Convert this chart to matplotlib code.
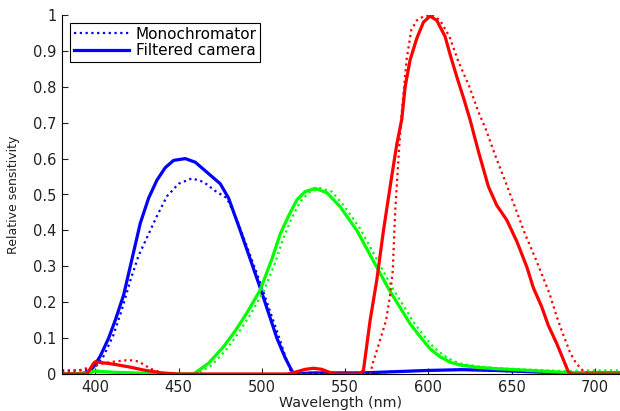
import matplotlib
matplotlib.use("Agg")
import matplotlib.pyplot as plt

plt.rcParams['font.family'] = ['DejaVu Sans']

# Filtered camera (solid) and monochromator (dotted) sensitivities
blue_cam_x = [380, 390, 396, 399, 403, 408, 412, 417, 422, 427, 432, 437, 442, 447, 454, 460, 465,
              470, 475, 480, 487, 493, 499, 504, 509, 514, 519, 530, 560, 600, 620, 640, 680, 715]
blue_cam_y = [0, 0, 0.005, 0.02, 0.05, 0.10, 0.15, 0.22, 0.32, 0.42, 0.49, 0.54, 0.575, 0.595, 0.60,
              0.59, 0.57, 0.55, 0.53, 0.49, 0.40, 0.32, 0.24, 0.17, 0.10, 0.045, 0.0, 0.003, 0.003,
              0.01, 0.012, 0.01, 0.003, 0.003]

blue_mono_x = [380, 390, 396, 400, 405, 411, 416, 421, 426, 431, 437, 443, 450, 458, 465, 472, 479,
               485, 491, 497, 503, 509, 514, 518, 530, 560, 600, 620, 660, 715]
blue_mono_y = [0.01, 0.01, 0.012, 0.02, 0.05, 0.11, 0.18, 0.26, 0.33, 0.38, 0.44, 0.495, 0.53, 0.545,
               0.535, 0.51, 0.49, 0.43, 0.355, 0.28, 0.2, 0.12, 0.05, 0.0, 0.003, 0.003, 0.01, 0.012,
               0.006, 0.003]

green_cam_x = [380, 396, 399, 410, 430, 445, 459, 468, 477, 484, 491, 499, 506, 511, 516, 521, 526,
               532, 539, 547, 557, 564, 571, 577, 583, 589, 595, 601, 607, 613, 619, 630, 640, 660,
               680, 700, 715]
green_cam_y = [0, 0.002, 0.008, 0.005, 0.002, 0, 0, 0.03, 0.076, 0.12, 0.17, 0.234, 0.32, 0.39, 0.44,
               0.485, 0.508, 0.517, 0.505, 0.466, 0.40, 0.34, 0.28, 0.23, 0.185, 0.14, 0.104, 0.07,
               0.048, 0.033, 0.025, 0.018, 0.015, 0.01, 0.005, 0.002, 0.002]

green_mono_x = [380, 396, 400, 410, 430, 447, 461, 470, 479, 486, 493, 501, 508, 513, 518, 523, 528,
                535, 542, 549, 559, 566, 573, 579, 585, 591, 597, 603, 609, 615, 621, 632, 642, 662,
                682, 700, 715]
green_mono_y = [0, 0.004, 0.01, 0.006, 0.002, 0, 0, 0.025, 0.07, 0.115, 0.165, 0.23, 0.31, 0.38, 0.435,
                0.48, 0.505, 0.518, 0.508, 0.47, 0.405, 0.345, 0.285, 0.235, 0.19, 0.145, 0.108,
                0.075, 0.052, 0.036, 0.027, 0.02, 0.016, 0.012, 0.008, 0.01, 0.01]

red_cam_x = [380, 395, 399, 400, 410, 420, 429, 440, 450, 515, 520, 526, 531, 536, 541, 545, 559,
             561, 565, 569, 573, 577.6, 581, 584, 586, 589, 593, 597, 601, 605, 610, 613, 617, 621,
             625, 630, 636, 641, 647, 653, 659, 663, 668, 672, 677, 681, 684, 686, 715]
red_cam_y = [0, 0, 0.03, 0.034, 0.028, 0.02, 0.011, 0.003, 0, 0, 0.005, 0.013, 0.016, 0.013, 0.004,
             0, 0, 0.011, 0.15, 0.262, 0.40, 0.54, 0.64, 0.71, 0.80, 0.875, 0.935, 0.98, 0.997,
             0.985, 0.94, 0.89, 0.828, 0.77, 0.708, 0.62, 0.522, 0.47, 0.429, 0.37, 0.299, 0.24,
             0.187, 0.135, 0.085, 0.04, 0.006, 0, 0]

red_mono_x = [380, 390, 398, 405, 412, 420, 426, 433, 440, 450, 565, 566.6, 570, 574.6, 577, 578.6,
              580, 581.6, 582.6, 584, 585.6, 587, 589.7, 593, 597, 602, 607, 612.6, 618, 624.6,
              630, 634.6, 640, 646.6, 652.6, 658, 664.6, 672.6, 677, 680.6, 685, 688.6, 693.6,
              700, 715]
red_mono_y = [0.005, 0.01, 0.02, 0.03, 0.035, 0.039, 0.035, 0.015, 0.003, 0, 0, 0.03, 0.08, 0.15,
              0.22, 0.29, 0.45, 0.57, 0.643, 0.73, 0.81, 0.88, 0.958, 0.985, 0.996, 1.0, 0.985,
              0.94, 0.87, 0.80, 0.73, 0.68, 0.61, 0.531, 0.457, 0.39, 0.318, 0.225, 0.16, 0.113,
              0.06, 0.03, 0.005, 0, 0]

x_ticks = [400, 450, 500, 550, 600, 650, 700]
y_ticks = [0, 0.1, 0.2, 0.3, 0.4, 0.5, 0.6, 0.7, 0.8, 0.9, 1]
y_tick_labels = ['0', '0.1', '0.2', '0.3', '0.4', '0.5', '0.6', '0.7', '0.8', '0.9', '1']

fig = plt.figure(figsize=(6.2, 4.11), dpi=100)
ax = fig.add_axes([62 / 620, 37 / 411, 558 / 620, 359 / 411])

dot = dict(linestyle=(0, (1, 1.6)), linewidth=1.6)
sol = dict(linestyle='-', linewidth=2.3)

ax.plot(blue_mono_x, blue_mono_y, color='#0000ff', label='Monochromator', **dot)
ax.plot(blue_cam_x, blue_cam_y, color='#0000ff', label='Filtered camera', **sol)
ax.plot(green_mono_x, green_mono_y, color='#00ff00', **dot)
ax.plot(green_cam_x, green_cam_y, color='#00ff00', **sol)
ax.plot(red_mono_x, red_mono_y, color='#ff0000', **dot)
ax.plot(red_cam_x, red_cam_y, color='#ff0000', **sol)

ax.set_xlim(380, 715)
ax.set_ylim(0, 1)
ax.set_xticks(x_ticks)
ax.set_yticks(y_ticks)
ax.set_yticklabels(y_tick_labels)
ax.tick_params(direction='in', length=4, width=0.8, labelsize=10.5, colors='#222222', pad=4)
ax.spines['top'].set_visible(False)
ax.spines['right'].set_visible(False)
ax.set_xlabel('Wavelength (nm)', fontsize=10.3, labelpad=1, color='#222222')
ax.set_ylabel('Relative sensitivity', fontsize=9, labelpad=9, color='#222222')

leg = ax.legend(loc='upper left', bbox_to_anchor=(0.014, 0.978), fancybox=False, edgecolor='black',
                framealpha=1, fontsize=11, handlelength=3.6, borderpad=0.25, labelspacing=0.1,
                handletextpad=0.45, borderaxespad=0)
leg.get_frame().set_linewidth(0.8)

fig.savefig('out.png', dpi=100)
